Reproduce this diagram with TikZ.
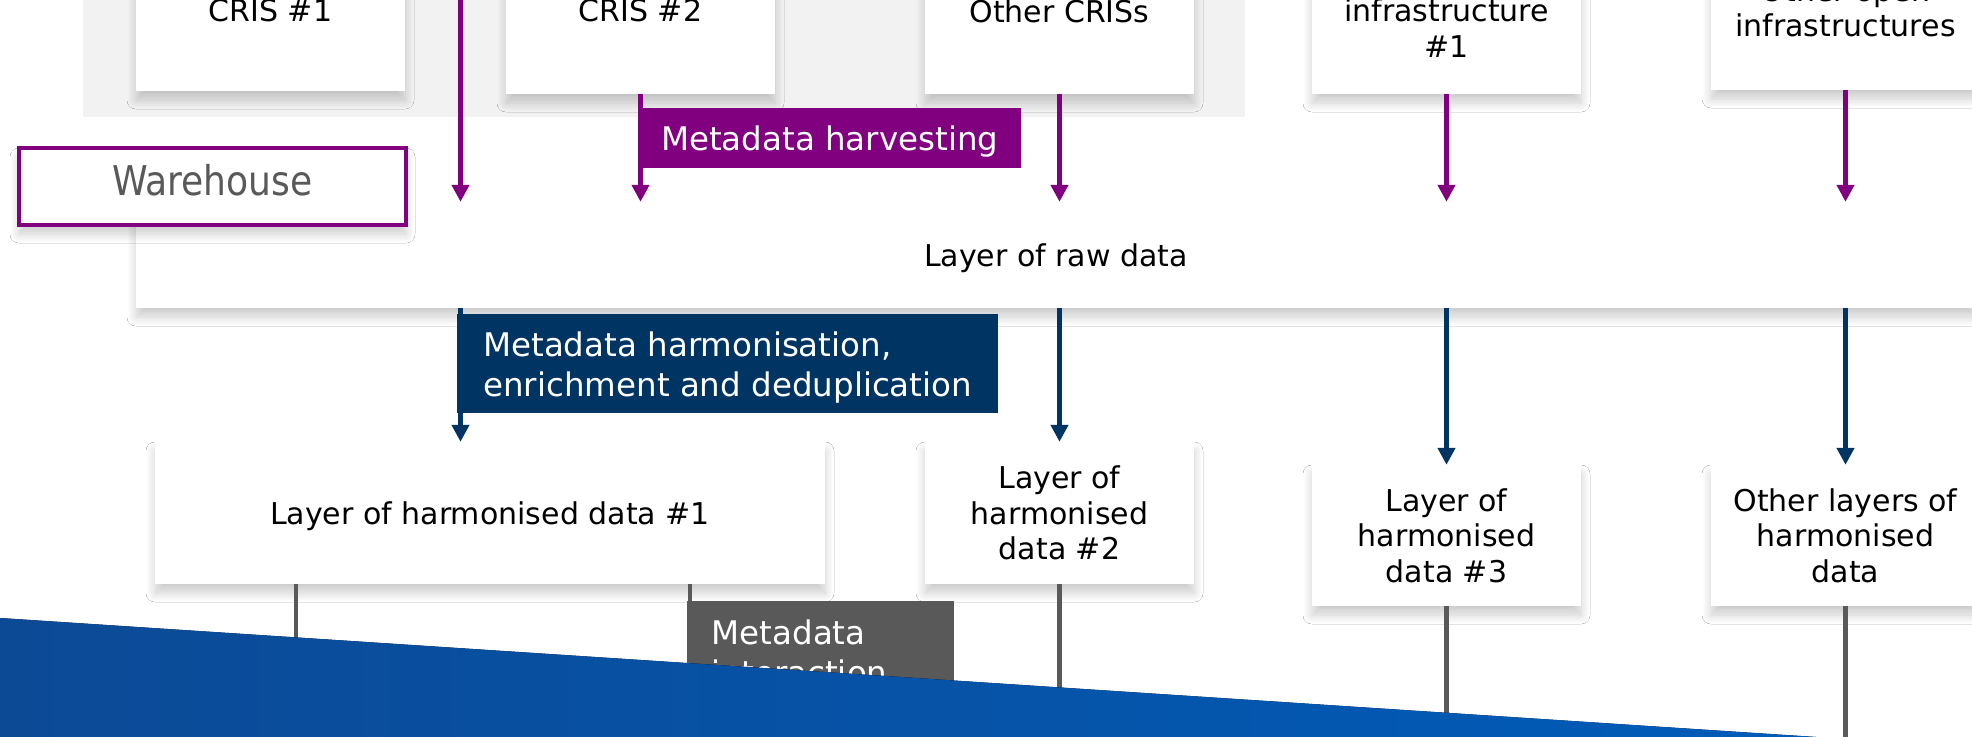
\documentclass[tikz,border=0pt]{standalone}
\usepackage{fontspec}
\setmainfont{DejaVu Sans}
\newfontfamily\narrowfont{DejaVu Sans}[FakeStretch=0.88]
\usetikzlibrary{arrows.meta,shadows.blur}

\definecolor{harvestpurple}{HTML}{800080}
\definecolor{harmonnavy}{HTML}{003462}
\definecolor{interactgrey}{HTML}{595959}
\definecolor{panelgrey}{HTML}{F2F2F2}
\definecolor{bandleft}{RGB}{12,74,150}
\definecolor{bandright}{RGB}{0,92,185}

\tikzset{
  softshadow/.style={blur shadow={shadow xshift=0pt, shadow yshift=-9pt,
      shadow blur radius=9pt, shadow blur steps=12, shadow opacity=20}},
  layerbox/.style={softshadow, fill=white, inner sep=0pt, align=center,
      text=black, font=\fontsize{30}{35.5}\selectfont},
  stagelabel/.style={inner sep=0pt, text=white, anchor=north west,
      font=\fontsize{32.5}{40}\selectfont},
  flow/.style={line width=4.5pt, -{Triangle[width=17pt,length=17pt]}},
  harvestflow/.style={flow, draw=harvestpurple},
  harmonflow/.style={flow, draw=harmonnavy},
  interactline/.style={line width=4.5pt, draw=interactgrey},
}

\begin{document}
\begin{tikzpicture}[x=1pt,y=-1pt]
\useasboundingbox (0,0) rectangle (1972,736);
\clip (0,0) rectangle (1972,736);
\fill[white] (0,0) rectangle (1972,736);

% container of the CRIS systems
\node[fill=panelgrey, inner sep=0pt, minimum width=1162pt, minimum height=137pt,
      anchor=south west] (crispanel) at (83,117) {};

% source systems
\node[layerbox, minimum width=269pt, minimum height=160pt] (cris1) at (270.5,11) {CRIS \#1};
\node[layerbox, minimum width=269pt, minimum height=166pt] (cris2) at (640.5,11) {CRIS \#2};
\node[layerbox, minimum width=269pt, minimum height=166pt] (cris3) at (1059.5,11) {Other CRISs};
\node[layerbox, minimum width=269pt, minimum height=131.3pt] (infra1) at (1446.5,28.35) {infrastructure\\\#1};
\node[layerbox, minimum width=269pt, minimum height=164.3pt] (infraN) at (1845.5,7.85) {Other open\\infrastructures};

% raw data layer
\node[layerbox, minimum width=1840pt, minimum height=106pt, text depth=0pt] (raw) at (1056,255) {Layer of raw data};

% harmonised layers
\node[layerbox, minimum width=670pt, minimum height=142pt, text depth=0pt] (h1) at (490,513) {Layer of harmonised data \#1};
\node[layerbox, minimum width=269pt, minimum height=142pt] (h2) at (1059.5,513) {Layer of\\harmonised\\data \#2};
\node[layerbox, minimum width=269pt, minimum height=141pt] (h3) at (1446.5,535.5) {Layer of\\harmonised\\data \#3};
\node[layerbox, minimum width=269pt, minimum height=141pt] (hN) at (1845.5,535.5) {Other layers of\\harmonised\\data};

% column guides and free ends
\coordinate (colA) at (460.5,0);
\coordinate (feedA) at (460.5,-30);
\coordinate (colF) at (296,0);
\coordinate (colG) at (690,0);
\coordinate (floor) at (0,750);

% harvesting into the raw layer
\draw[harvestflow] (feedA) -- (raw.north -| feedA);
\draw[harvestflow] (cris2.south) -- (raw.north -| cris2.south);
\draw[harvestflow] (cris3.south) -- (raw.north -| cris3.south);
\draw[harvestflow] (infra1.south) -- (raw.north -| infra1.south);
\draw[harvestflow] (infraN.south) -- (raw.north -| infraN.south);

% harmonisation into the layers
\draw[harmonflow] (raw.south -| colA) -- (h1.north -| colA);
\draw[harmonflow] (raw.south -| h2.north) -- (h2.north);
\draw[harmonflow] (raw.south -| h3.north) -- (h3.north);
\draw[harmonflow] (raw.south -| hN.north) -- (hN.north);

% interaction lines leaving the layers
\draw[interactline] (h1.south -| colF) -- (floor -| colF);
\draw[interactline] (h1.south -| colG) -- (floor -| colG);
\draw[interactline] (h2.south) -- (floor -| h2.south);
\draw[interactline] (h3.south) -- (floor -| h3.south);
\draw[interactline] (hN.south) -- (floor -| hN.south);

% stage labels
\node[stagelabel, fill=harvestpurple, minimum width=383pt, minimum height=60.4pt,
      text height=25pt, text depth=0pt] (harvestlbl) at (638,107.3) {Metadata harvesting};
\node[stagelabel, fill=harmonnavy, align=left, minimum width=541pt, minimum height=99pt]
      (harmonlbl) at (457,314) {Metadata harmonisation,\\\smash{enrichment and deduplication}};
\node[stagelabel, fill=interactgrey, align=left, text width=218pt, inner xsep=24.5pt,
      inner ysep=18.6pt] (interactlbl) at (687,600.7) {Metadata\\interaction};

% warehouse tag
\node[draw=harvestpurple, line width=4pt, fill=white, softshadow, minimum width=387pt,
      minimum height=77pt, inner sep=0pt, text height=31pt, text depth=14pt,
      text=interactgrey, font=\narrowfont\fontsize{41}{48}\selectfont]
      (warehouse) at (212.5,186.5) {Warehouse};

% slanted blue band across the bottom
\fill[left color=bandleft, right color=bandright] (0,618) -- (1862,740) -- (0,740) -- cycle;
\end{tikzpicture}
\end{document}
